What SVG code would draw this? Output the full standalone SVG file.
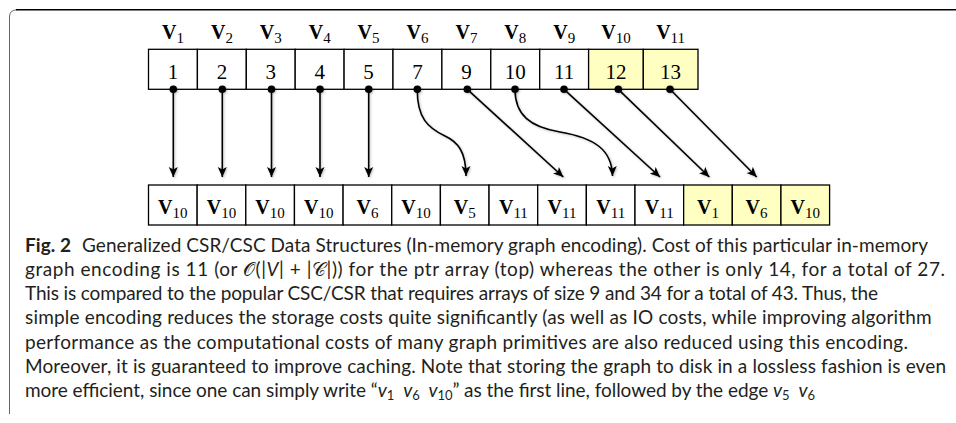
<svg xmlns="http://www.w3.org/2000/svg" width="956" height="423" viewBox="0 0 956 423">
<defs>
<marker id="ah" viewBox="0 0 10 10" refX="10" refY="5" markerWidth="10" markerHeight="10" markerUnits="userSpaceOnUse" orient="auto">
<path d="M0,0.5 L10,5 L0,9.5 L2.5,5 Z" fill="#000"/>
</marker>
<filter id="sh" x="-20%" y="-20%" width="140%" height="140%">
<feDropShadow dx="1" dy="1" stdDeviation="0.8" flood-color="#000" flood-opacity="0.25"/>
</filter>
</defs>
<style>
.cell{fill:#fff;stroke:#000;stroke-width:1.3}
.yel{fill:#FFFFC2;stroke:#000;stroke-width:1.3}
.lab{font-family:"Liberation Serif",serif;font-weight:bold;font-size:20px;fill:#000;text-anchor:middle}
.sub{font-weight:normal;font-size:15px}
.num{font-family:"Liberation Serif",serif;font-size:21px;fill:#000;text-anchor:middle}
.con{fill:none;stroke:#000;stroke-width:1.6;marker-end:url(#ah)}
.dot{fill:#000}
.cap{font-family:Lato,"Open Sans",sans-serif;font-size:19px;fill:#231f20}
.it{font-style:italic}
.cs{font-size:13px}
.mt{font-family:"DejaVu Serif","DejaVu Sans",serif}
</style>
<g id="frame">
<path d="M9.5,414 L9.5,17 Q9.5,9.8 17,9.8" fill="none" stroke="#666" stroke-width="1"/>
<path d="M16,9.8 L956,9.8" fill="none" stroke="#000" stroke-width="1.6"/>
</g>
<g id="ptr-array">
<rect class="cell" x="148.5" y="49.3" width="48.9" height="40"/>
<rect class="cell" x="197.4" y="49.3" width="48.9" height="40"/>
<rect class="cell" x="246.3" y="49.3" width="48.9" height="40"/>
<rect class="cell" x="295.2" y="49.3" width="48.9" height="40"/>
<rect class="cell" x="344.1" y="49.3" width="48.9" height="40"/>
<rect class="cell" x="393" y="49.3" width="48.9" height="40"/>
<rect class="cell" x="441.9" y="49.3" width="48.9" height="40"/>
<rect class="cell" x="490.8" y="49.3" width="48.9" height="40"/>
<rect class="cell" x="539.7" y="49.3" width="48.9" height="40"/>
<rect class="yel" x="588.6" y="49.3" width="54.7" height="40"/>
<rect class="yel" x="643.3" y="49.3" width="54.7" height="40"/>
<text class="num" x="173" y="78.5">1</text>
<text class="num" x="221.9" y="78.5">2</text>
<text class="num" x="270.8" y="78.5">3</text>
<text class="num" x="319.7" y="78.5">4</text>
<text class="num" x="368.6" y="78.5">5</text>
<text class="num" x="417.5" y="78.5">7</text>
<text class="num" x="466.4" y="78.5">9</text>
<text class="num" x="515.3" y="78.5">10</text>
<text class="num" x="564.2" y="78.5">11</text>
<text class="num" x="616" y="78.5">12</text>
<text class="num" x="670.6" y="78.5">13</text>
<text class="lab" x="173" y="39">V<tspan class="sub" dy="3.5">1</tspan></text>
<text class="lab" x="221.9" y="39">V<tspan class="sub" dy="3.5">2</tspan></text>
<text class="lab" x="270.8" y="39">V<tspan class="sub" dy="3.5">3</tspan></text>
<text class="lab" x="319.7" y="39">V<tspan class="sub" dy="3.5">4</tspan></text>
<text class="lab" x="368.6" y="39">V<tspan class="sub" dy="3.5">5</tspan></text>
<text class="lab" x="417.5" y="39">V<tspan class="sub" dy="3.5">6</tspan></text>
<text class="lab" x="466.4" y="39">V<tspan class="sub" dy="3.5">7</tspan></text>
<text class="lab" x="515.3" y="39">V<tspan class="sub" dy="3.5">8</tspan></text>
<text class="lab" x="564.2" y="39">V<tspan class="sub" dy="3.5">9</tspan></text>
<text class="lab" x="616" y="39">V<tspan class="sub" dy="3.5">10</tspan></text>
<text class="lab" x="670.6" y="39">V<tspan class="sub" dy="3.5">11</tspan></text>
</g>
<g id="idx-array">
<rect class="cell" x="148.5" y="185" width="48.65" height="40"/>
<rect class="cell" x="197.15" y="185" width="48.65" height="40"/>
<rect class="cell" x="245.8" y="185" width="48.65" height="40"/>
<rect class="cell" x="294.45" y="185" width="48.65" height="40"/>
<rect class="cell" x="343.1" y="185" width="48.65" height="40"/>
<rect class="cell" x="391.75" y="185" width="48.65" height="40"/>
<rect class="cell" x="440.4" y="185" width="48.65" height="40"/>
<rect class="cell" x="489.05" y="185" width="48.65" height="40"/>
<rect class="cell" x="537.7" y="185" width="48.65" height="40"/>
<rect class="cell" x="586.35" y="185" width="48.65" height="40"/>
<rect class="cell" x="635" y="185" width="48.65" height="40"/>
<rect class="yel" x="683.65" y="185" width="48.65" height="40"/>
<rect class="yel" x="732.3" y="185" width="48.65" height="40"/>
<rect class="yel" x="780.95" y="185" width="48.65" height="40"/>
<text class="lab" x="172.8" y="214">V<tspan class="sub" dy="3.5">10</tspan></text>
<text class="lab" x="221.5" y="214">V<tspan class="sub" dy="3.5">10</tspan></text>
<text class="lab" x="270.1" y="214">V<tspan class="sub" dy="3.5">10</tspan></text>
<text class="lab" x="318.8" y="214">V<tspan class="sub" dy="3.5">10</tspan></text>
<text class="lab" x="367.4" y="214">V<tspan class="sub" dy="3.5">6</tspan></text>
<text class="lab" x="416.1" y="214">V<tspan class="sub" dy="3.5">10</tspan></text>
<text class="lab" x="464.7" y="214">V<tspan class="sub" dy="3.5">5</tspan></text>
<text class="lab" x="513.4" y="214">V<tspan class="sub" dy="3.5">11</tspan></text>
<text class="lab" x="562" y="214">V<tspan class="sub" dy="3.5">11</tspan></text>
<text class="lab" x="610.7" y="214">V<tspan class="sub" dy="3.5">11</tspan></text>
<text class="lab" x="659.3" y="214">V<tspan class="sub" dy="3.5">11</tspan></text>
<text class="lab" x="708" y="214">V<tspan class="sub" dy="3.5">1</tspan></text>
<text class="lab" x="756.6" y="214">V<tspan class="sub" dy="3.5">6</tspan></text>
<text class="lab" x="805.3" y="214">V<tspan class="sub" dy="3.5">10</tspan></text>
</g>
<g id="connectors" filter="url(#sh)">
<path class="con" d="M173.3,89.3 L173.3,177"/>
<path class="con" d="M222.3,89.3 L222.3,177"/>
<path class="con" d="M271.5,89.3 L271.5,177"/>
<path class="con" d="M320,89.3 L320,177"/>
<path class="con" d="M368.7,89.3 L368.7,177"/>
<path class="con" d="M417.3,89.3 C417,118 428,128 445,136 C458,142 466,152 466,176"/>
<path class="con" d="M467.3,89.3 L563.3,177"/>
<path class="con" d="M515,89.3 C515,115 530,127 560,132 C595,138 612,150 612.5,176"/>
<path class="con" d="M564,89.3 L660,177"/>
<path class="con" d="M618.3,89.3 L709.3,177"/>
<path class="con" d="M670,89.3 L756.7,177"/>
<circle class="dot" cx="173.3" cy="89.3" r="3.8"/>
<circle class="dot" cx="222.3" cy="89.3" r="3.8"/>
<circle class="dot" cx="271.5" cy="89.3" r="3.8"/>
<circle class="dot" cx="320" cy="89.3" r="3.8"/>
<circle class="dot" cx="368.7" cy="89.3" r="3.8"/>
<circle class="dot" cx="417.3" cy="89.3" r="3.8"/>
<circle class="dot" cx="467.3" cy="89.3" r="3.8"/>
<circle class="dot" cx="515" cy="89.3" r="3.8"/>
<circle class="dot" cx="564" cy="89.3" r="3.8"/>
<circle class="dot" cx="618.3" cy="89.3" r="3.8"/>
<circle class="dot" cx="670" cy="89.3" r="3.8"/>
</g>
<g id="caption" class="cap">
<text x="25" y="251.5" textLength="903" lengthAdjust="spacing"><tspan font-weight="bold">Fig. 2</tspan><tspan dx="6"> Generalized CSR/CSC Data Structures (In-memory graph encoding). Cost of this particular in-memory</tspan></text>
<text x="25" y="275.75" textLength="920" lengthAdjust="spacing">graph encoding is 11 (or <tspan class="mt">𝒪</tspan>(|<tspan class="it">V</tspan>| + |<tspan class="mt">𝒞</tspan>|)) for the ptr array (top) whereas the other is only 14, for a total of 27.</text>
<text x="25" y="300" textLength="853" lengthAdjust="spacing">This is compared to the popular CSC/CSR that requires arrays of size 9 and 34 for a total of 43. Thus, the</text>
<text x="25" y="324.25" textLength="906.7" lengthAdjust="spacing">simple encoding reduces the storage costs quite significantly (as well as IO costs, while improving algorithm</text>
<text x="25" y="348.5" textLength="883" lengthAdjust="spacing">performance as the computational costs of many graph primitives are also reduced using this encoding.</text>
<text x="25" y="372.75" textLength="921" lengthAdjust="spacing">Moreover, it is guaranteed to improve caching. Note that storing the graph to disk in a lossless fashion is even</text>
<text x="25" y="397" textLength="790" lengthAdjust="spacing">more efficient, since one can simply write “<tspan class="it">v</tspan><tspan class="cs" dy="3">1</tspan><tspan dy="-3" dx="4"> </tspan><tspan class="it">v</tspan><tspan class="cs" dy="3">6</tspan><tspan dy="-3" dx="4"> </tspan><tspan class="it">v</tspan><tspan class="cs" dy="3">10</tspan><tspan dy="-3">” as the first line, followed by the edge </tspan><tspan class="it">v</tspan><tspan class="cs" dy="3">5</tspan><tspan dy="-3" dx="4"> </tspan><tspan class="it">v</tspan><tspan class="cs" dy="3">6</tspan></text>
</g>
</svg>
